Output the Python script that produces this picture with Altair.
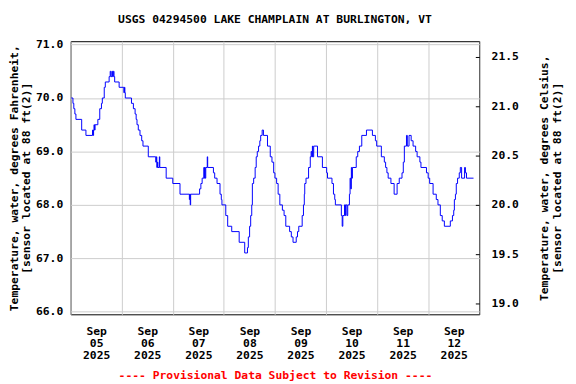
import altair as alt
import pandas as pd

# ---- data (hours since 2025-09-05 00:00, deg F) ----
hours = [0.3, 1.1, 1.5, 2.0, 2.5, 5.2, 7.2, 10.3, 10.6, 10.8, 11.0, 11.2, 11.5, 12.8, 13.7,
         14.5, 14.9, 15.8, 16.3, 18.1, 18.6, 18.9, 19.4, 19.7, 20.1, 20.4, 20.7, 22.8, 25.0,
         25.3, 25.5, 25.7, 28.6, 29.5, 30.3, 30.8, 31.2, 31.8, 32.6, 33.4, 34.0, 36.5, 40.0,
         40.3, 40.5, 40.8, 41.0, 41.7, 41.9, 44.9, 48.0, 51.4, 55.8, 56.0, 56.2, 56.4, 60.6,
         61.2, 61.8, 62.6, 62.8, 63.0, 63.2, 63.5, 64.2, 64.4, 67.1, 67.7, 68.8, 70.2, 70.8,
         71.1, 72.9, 73.8, 75.7, 79.2, 81.8, 83.1, 83.5, 84.1, 84.6, 85.1, 85.4, 86.0, 86.7,
         87.2, 87.7, 88.3, 88.9, 89.3, 90.0, 90.6, 92.5, 93.8, 94.6, 95.4, 96.0, 96.8, 97.5,
         98.3, 99.5, 100.3, 101.1, 102.9, 103.7, 104.5, 106.0, 106.6, 107.2, 108.8, 109.4,
         109.8, 110.0, 110.6, 111.8, 112.6, 113.0, 113.3, 113.6, 113.8, 114.2, 116.0, 118.3,
         120.3, 120.7, 122.8, 123.5, 124.1, 124.4, 127.2, 127.6, 127.9, 128.7, 129.0, 129.2,
         129.8, 130.2, 131.0, 131.3, 131.6, 131.9, 132.1, 132.4, 134.2, 134.9, 135.7, 136.8,
         139.0, 141.8, 143.2, 143.8, 146.0, 147.4, 148.0, 148.6, 149.2, 150.5, 152.0, 153.4,
         154.4, 155.7, 156.3, 156.8, 157.8, 158.2, 159.0, 160.0, 160.9, 162.1, 162.8, 164.1,
         164.6, 167.2, 168.0, 168.7, 170.3, 171.8, 172.6, 173.7, 174.6, 175.6, 178.4, 179.4,
         180.0, 180.3, 180.8, 181.2, 181.8, 182.6, 183.1, 183.7, 185.1, 185.5, 186.0, 189.3]
temps_f = [70.0, 69.9, 69.8, 69.7, 69.6, 69.4, 69.3, 69.4, 69.3, 69.4, 69.5, 69.4, 69.5, 69.6, 69.8,
           69.9, 70.0, 70.2, 70.3, 70.4, 70.5, 70.4, 70.5, 70.4, 70.5, 70.4, 70.3, 70.2, 70.1,
           70.2, 70.1, 70.0, 69.9, 69.8, 69.7, 69.6, 69.5, 69.4, 69.3, 69.2, 69.1, 68.9, 68.8,
           68.9, 68.7, 68.8, 68.7, 68.9, 68.7, 68.5, 68.4, 68.2, 68.1, 68.2, 68.0, 68.2, 68.3,
           68.4, 68.5, 68.7, 68.5, 68.7, 68.5, 68.7, 68.9, 68.7, 68.6, 68.5, 68.4, 68.2, 68.1,
           68.0, 67.8, 67.6, 67.5, 67.3, 67.1, 67.2, 67.4, 67.6, 67.8, 68.0, 68.4, 68.5, 68.7,
           68.9, 69.0, 69.1, 69.2, 69.3, 69.4, 69.3, 69.1, 68.9, 68.8, 68.6, 68.5, 68.4, 68.2,
           68.0, 67.9, 67.8, 67.6, 67.5, 67.4, 67.3, 67.4, 67.5, 67.6, 67.8, 68.0,
           68.2, 68.4, 68.5, 68.7, 68.9, 69.0, 68.9, 69.1, 68.9, 69.1, 68.9, 68.7,
           68.6, 68.5, 68.4, 68.2, 68.1, 68.0, 67.8, 67.6, 67.8, 68.0, 67.8, 68.0,
           67.8, 68.0, 68.2, 68.5, 68.3, 68.7, 68.5, 68.7, 68.9, 69.0, 69.1, 69.3,
           69.4, 69.3, 69.2, 69.1, 68.9, 68.8, 68.7, 68.6, 68.5, 68.4, 68.2, 68.4,
           68.5, 68.6, 68.8, 69.1, 69.3, 69.1, 69.3, 69.2, 69.1, 69.0, 68.9, 68.8,
           68.7, 68.6, 68.5, 68.4, 68.2, 68.1, 68.0, 67.8, 67.7, 67.6, 67.7, 67.8,
           67.9, 68.1, 68.2, 68.4, 68.5, 68.6, 68.7, 68.5, 68.7, 68.6, 68.5, 68.5]

label_days = [5, 6, 7, 8, 9, 10, 11, 12]
grid_days = [5, 6, 7, 8, 9, 10, 11, 12, 13]
f_ticks = [66.0, 67.0, 68.0, 69.0, 70.0, 71.0]
c_ticks = [19.0, 19.5, 20.0, 20.5, 21.0, 21.5]
f_domain = [65.952, 71.063]
c_domain = [18.89, 21.66]

title_text = "USGS 04294500 LAKE CHAMPLAIN AT BURLINGTON, VT"
footnote = "---- Provisional Data Subject to Revision ----"
f_title = ["Temperature, water, degrees Fahrenheit,", "[sensor located at 88 ft(2)]"]
c_title = ["Temperature, water, degrees Celsius,", "[sensor located at 88 ft(2)]"]

base = pd.Timestamp("2025-09-05T00:00:00")
df = pd.DataFrame({
    "time": [(base + pd.Timedelta(hours=h)).strftime("%Y-%m-%dT%H:%M:%SZ") for h in hours],
    "f": temps_f,
})
df["c"] = (df["f"] - 32.0) * 5.0 / 9.0

FONT = "DejaVu Sans Mono"
FS = 11.5

xscale = alt.Scale(type="utc", domain=[alt.DateTime(year=2025, month=9, date=5, utc=True),
                                       alt.DateTime(year=2025, month=9, date=13, utc=True)])

noon = [alt.DateTime(year=2025, month=9, date=d, hours=12, utc=True) for d in label_days]
midnights = [alt.DateTime(year=2025, month=9, date=d, utc=True) for d in grid_days]

celsius = alt.Chart(df).mark_line(interpolate="step-after", strokeOpacity=0).encode(
    x=alt.X("time:T", scale=xscale,
            axis=alt.Axis(orient="top", values=midnights, grid=True, gridColor="#cccccc",
                          gridWidth=1, labels=False, ticks=False, domain=False, title=None)),
    y=alt.Y("c:Q", scale=alt.Scale(domain=c_domain, nice=False, zero=False),
            axis=alt.Axis(orient="right", values=c_ticks, format=".1f", grid=False,
                          tickSize=4, tickColor="black", offset=-4, domain=False,
                          labelPadding=12, title=c_title, titleAngle=270,
                          titleBaseline="top", titlePadding=8, titleLineHeight=13)),
)

line = alt.Chart(df).mark_line(interpolate="step-after", color="#0000ff", strokeWidth=1).encode(
    x=alt.X("time:T", scale=xscale,
            axis=alt.Axis(orient="bottom", values=noon,
                          labelExpr="[utcFormat(datum.value, '%b'), utcFormat(datum.value, '%d'), utcFormat(datum.value, '%Y')]",
                          grid=False, ticks=False, domain=False, labelPadding=11,
                          labelLineHeight=12.5, labelFlush=False, labelOverlap=False,
                          title=footnote, titleColor="#ff0000", titlePadding=9)),
    y=alt.Y("f:Q", scale=alt.Scale(domain=f_domain, nice=False, zero=False),
            axis=alt.Axis(orient="left", values=f_ticks, format=".1f", grid=True,
                          gridColor="#cccccc", gridWidth=1, ticks=False, domain=False,
                          labelPadding=8, title=f_title, titlePadding=4, titleLineHeight=12.5)),
)

chart = alt.layer(celsius, line).resolve_scale(y="independent").resolve_axis(
    x="independent", y="independent"
).properties(
    width=414.5, height=277,
    autosize=alt.AutoSizeParams(type="none"),
    padding={"left": 63.5, "top": 31, "right": 90, "bottom": 68},
    title=alt.TitleParams(title_text, font=FONT, fontSize=FS, fontWeight="bold", color="black",
                          anchor="middle", frame="group", baseline="alphabetic", offset=4),
).configure_view(
    stroke="black", strokeWidth=1, fill="white"
).configure_axis(
    labelFont=FONT, labelFontSize=FS, labelFontWeight="bold", labelColor="black",
    titleFont=FONT, titleFontSize=FS, titleFontWeight="bold", titleColor="black",
)

chart.save("out.html", embed_options={"renderer": "svg", "actions": False})
